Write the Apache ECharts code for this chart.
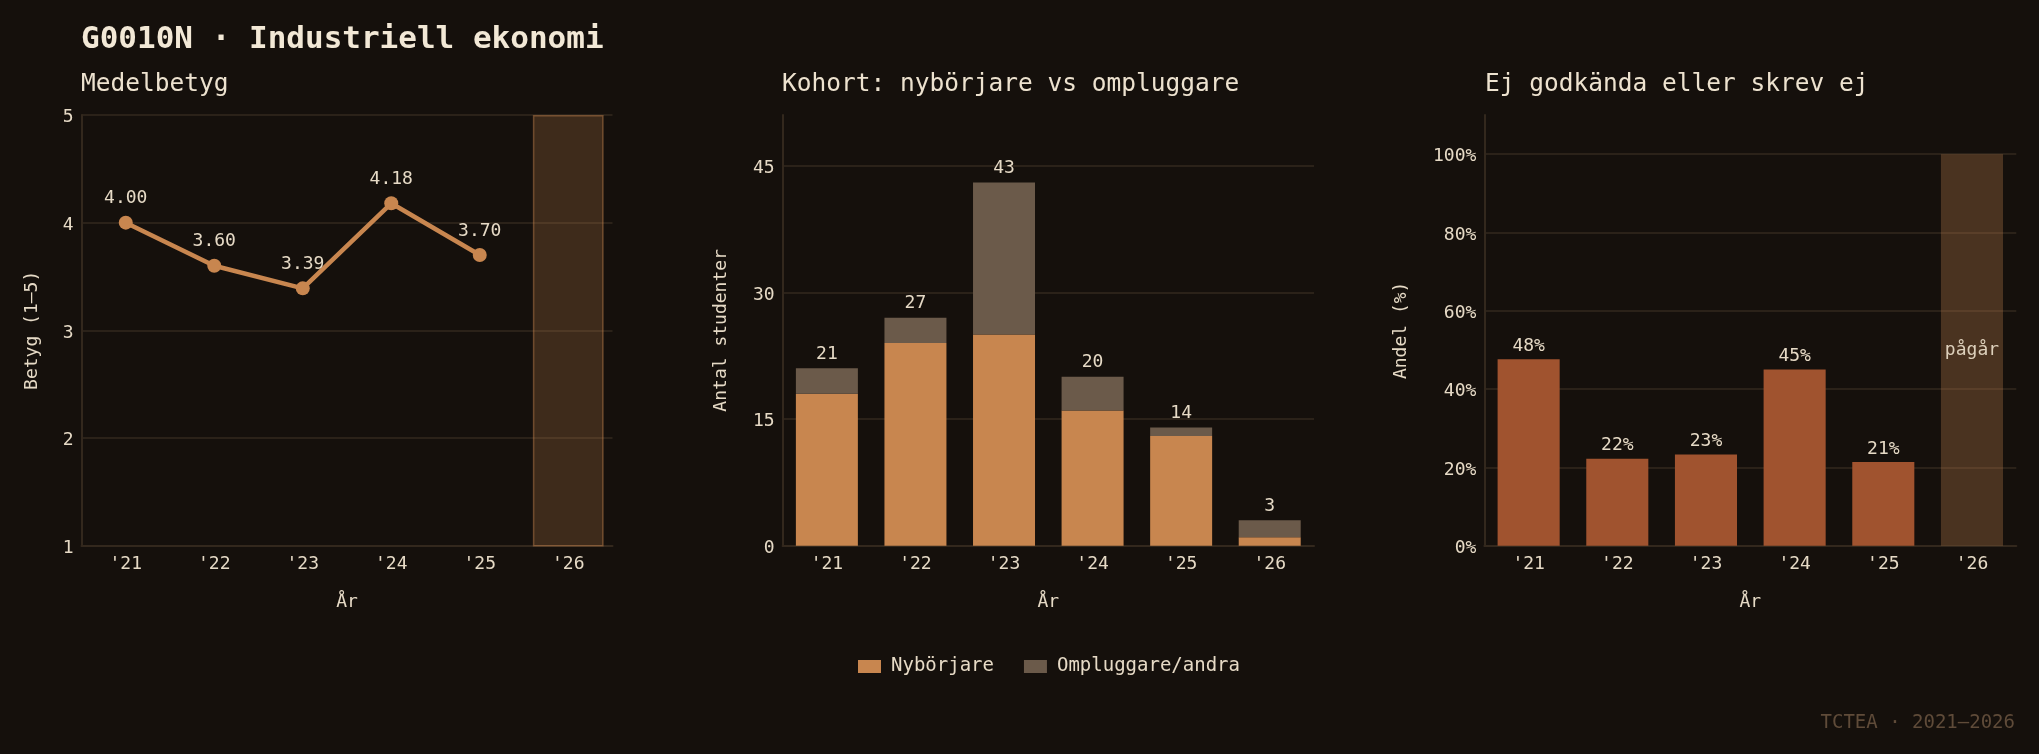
<!DOCTYPE html>
<html>
<head>
<meta charset="utf-8">
<title>G0010N · Industriell ekonomi</title>
<script src="https://cdn.jsdelivr.net/npm/echarts@6/dist/echarts.min.js"></script>
<style>
  html, body { margin: 0; padding: 0; background: #15100c; }
  #chart { width: 2039px; height: 754px; }
</style>
</head>
<body>
<div id="chart"></div>
<script>
// data
const years = ["'21", "'22", "'23", "'24", "'25", "'26"];
const medelbetyg = [4.00, 3.60, 3.39, 4.18, 3.70, null];
const betygPagar = [null, null, null, null, null, 5];
const nyborjare = [18, 24, 25, 16, 13, 1];
const ompluggare = [3, 3, 18, 4, 1, 2];
const ejGodkanda = [47.6, 22.2, 23.3, 45.0, 21.4, null];
const andelPagar = [null, null, null, null, null, 100];

const mono = "DejaVu Sans Mono";
const txt = "#e6dac6";
const gridCol = "#2b2219";
const axisCol = "#33281d";
const orange = "#c8864f";
const greyBrown = "#6b5a4a";
const rust = "#a0532f";

var chartDom = document.getElementById("chart");
var myChart = echarts.init(chartDom);

const catAxis = (i) => ({
  type: "category",
  gridIndex: i,
  data: years,
  name: "År",
  nameLocation: "middle",
  nameGap: 48,
  nameTextStyle: { color: txt, fontFamily: mono, fontSize: 18 },
  axisLine: { show: true, lineStyle: { color: axisCol, width: 2 } },
  axisTick: { show: false },
  axisLabel: { color: txt, fontFamily: mono, fontSize: 18, margin: 10 },
  splitLine: { show: false },
});

const valAxis = (i, min, max, interval, name, nameGap, suffix) => ({
  type: "value",
  gridIndex: i,
  min: min,
  max: max,
  interval: interval,
  name: name,
  nameLocation: "middle",
  nameGap: nameGap,
  nameTextStyle: { color: txt, fontFamily: mono, fontSize: 18 },
  axisLine: { show: true, lineStyle: { color: axisCol, width: 2 } },
  axisTick: { show: false },
  axisLabel: {
    margin: 8,
    showMaxLabel: max % interval === 0,
    formatter: (v) => "{t|" + v + suffix + "}",
    rich: {
      t: { color: txt, fontFamily: mono, fontSize: 18, padding: [5, 0, 0, 0] },
    },
  },
  splitLine: {
    show: true,
    showMaxLine: max % interval === 0,
    lineStyle: { color: gridCol, width: 2 },
  },
});

const subTitle = (text, left) => ({
  text: text,
  left: left, top: 72,
  padding: 0,
  textStyle: { color: "#ede2cf", fontFamily: mono, fontSize: 24.5, fontWeight: "normal" },
});

var option = {
  backgroundColor: "#15100c",
  animation: false,
  textStyle: { fontFamily: mono },
  title: [
    {
      text: "G0010N · Industriell ekonomi",
      left: 81, top: 24,
      padding: 0,
      textStyle: { color: "#f2e8d6", fontFamily: mono, fontSize: 31, fontWeight: "bold" },
    },
    subTitle("Medelbetyg", 81),
    subTitle("Kohort: nybörjare vs ompluggare", 782),
    subTitle("Ej godkända eller skrev ej", 1485),
  ],
  legend: {
    data: ["Nybörjare", "Ompluggare/andra"],
    left: 853,
    top: 652,
    icon: "rect",
    itemWidth: 23,
    itemHeight: 13,
    itemGap: 30,
    textStyle: { color: txt, fontFamily: mono, fontSize: 19, padding: [0, 0, 0, 5] },
  },
  grid: [
    { left: 81.5, top: 115, width: 531, height: 430.7 },
    { left: 782.6, top: 115, width: 531.4, height: 430.7 },
    { left: 1484.3, top: 115, width: 532, height: 430.7 },
  ],
  xAxis: [catAxis(0), catAxis(1), catAxis(2)],
  yAxis: [
    valAxis(0, 1, 5, 1, "Betyg (1–5)", 40, ""),
    valAxis(1, 0, 51, 15, "Antal studenter", 52, ""),
    valAxis(2, 0, 110, 20, "Andel (%)", 74, "%"),
  ],
  series: [
    {
      name: "pågår betyg",
      type: "bar",
      xAxisIndex: 0, yAxisIndex: 0,
      data: betygPagar,
      barWidth: "80%",
      itemStyle: {
        color: "rgba(200,134,79,0.23)",
        borderColor: "rgba(200,134,79,0.45)",
        borderWidth: 1.5,
      },
      z: 1,
    },
    {
      name: "Medelbetyg",
      type: "line",
      xAxisIndex: 0, yAxisIndex: 0,
      data: medelbetyg,
      lineStyle: { color: orange, width: 4.5 },
      itemStyle: { color: orange },
      symbol: "circle",
      symbolSize: 14,
      label: {
        show: true, position: "top", distance: 8,
        color: txt, fontFamily: mono, fontSize: 18,
        formatter: (p) => p.value.toFixed(2),
      },
      z: 3,
    },
    {
      name: "Nybörjare",
      type: "bar",
      xAxisIndex: 1, yAxisIndex: 1,
      stack: "kohort",
      data: nyborjare,
      barWidth: "70%",
      itemStyle: { color: orange },
    },
    {
      name: "Ompluggare/andra",
      type: "bar",
      xAxisIndex: 1, yAxisIndex: 1,
      stack: "kohort",
      data: ompluggare,
      barWidth: "70%",
      itemStyle: { color: greyBrown },
      label: {
        show: true, position: "top", distance: 5,
        color: txt, fontFamily: mono, fontSize: 18,
        formatter: (p) => nyborjare[p.dataIndex] + ompluggare[p.dataIndex],
      },
    },
    {
      name: "Ej godkända",
      type: "bar",
      xAxisIndex: 2, yAxisIndex: 2,
      data: ejGodkanda,
      barWidth: "70%",
      itemStyle: { color: rust },
      label: {
        show: true, position: "top", distance: 4,
        color: txt, fontFamily: mono, fontSize: 18,
        formatter: (p) => Math.round(p.value) + "%",
      },
    },
    {
      name: "pågår andel",
      type: "bar",
      xAxisIndex: 2, yAxisIndex: 2,
      data: andelPagar,
      barWidth: "70%",
      barGap: "-100%",
      itemStyle: { color: "rgba(200,134,79,0.3)" },
      label: {
        show: true, position: "inside",
        color: "#ddd0bb", fontFamily: mono, fontSize: 18,
        formatter: "pågår",
      },
    },
  ],
  graphic: [
    {
      type: "text",
      right: 24,
      top: 714,
      style: {
        text: "TCTEA · 2021–2026",
        fill: "#5f4b39",
        font: "19px 'DejaVu Sans Mono'",
      },
    },
  ],
};

option && myChart.setOption(option);
</script>
</body>
</html>
